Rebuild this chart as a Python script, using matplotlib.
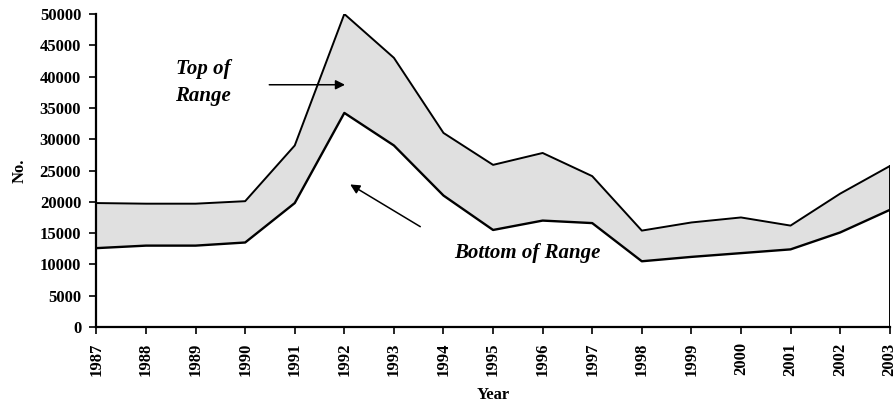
import matplotlib
matplotlib.use("Agg")
import matplotlib.pyplot as plt

years = list(range(1987, 2004))
top = [19800, 19700, 19700, 20100, 29000, 50000, 43000, 31000, 25900, 27800,
       24100, 15400, 16700, 17500, 16200, 21300, 25700]
bottom = [12600, 13000, 13000, 13500, 19800, 34200, 29000, 21000, 15500, 17000,
          16600, 10500, 11200, 11800, 12400, 15100, 18700]
yticks = list(range(0, 50001, 5000))

plt.rcParams['font.family'] = ['Liberation Serif', 'DejaVu Serif']
plt.rcParams['font.weight'] = 'bold'

fig = plt.figure(figsize=(8.93, 4.04), dpi=100)
ax = fig.add_axes([0.108, 0.1906, 0.8883, 0.7747])

ax.fill_between(years, bottom, top, facecolor='#e0e0e0', edgecolor='none', zorder=1)
ax.plot(years, top, color='black', lw=1.4, zorder=3)
ax.plot(years, bottom, color='black', lw=1.7, zorder=3)
ax.plot([years[-1], years[-1]], [0, top[-1]], color='black', lw=1.4, zorder=3)

ax.set_xlim(years[0], years[-1])
ax.set_ylim(0, 50000)
ax.set_xticks(years)
ax.set_xticklabels([str(y) for y in years], rotation=90, fontsize=12, fontweight='bold')
ax.set_yticks(yticks)
ax.set_yticklabels([str(v) for v in yticks], fontsize=12, fontweight='bold')
ax.tick_params(axis='both', direction='out', length=5, width=1.2, colors='black', pad=6)
for s in ['top', 'right']:
    ax.spines[s].set_visible(False)
for s in ['left', 'bottom']:
    ax.spines[s].set_linewidth(1.6)

ax.set_xlabel('Year', fontsize=12, fontweight='bold', labelpad=8)
ax.set_ylabel('No.', fontsize=12, fontweight='bold', labelpad=9)

ax.text(1989.15, 39000, 'Top of\nRange', fontsize=15, fontweight='bold', style='italic',
        ha='center', va='center', linespacing=1.45)
ax.annotate('', xy=(1992.07, 38700), xytext=(1990.43, 38700),
            arrowprops=dict(arrowstyle='-|>', color='black', lw=1.1, mutation_scale=14))
ax.text(1995.69, 11900, 'Bottom of Range', fontsize=15, fontweight='bold', style='italic',
        ha='center', va='center')
ax.annotate('', xy=(1992.07, 23000), xytext=(1993.58, 15800),
            arrowprops=dict(arrowstyle='-|>', color='black', lw=1.1, mutation_scale=14))

fig.savefig('out.png', dpi=100)
